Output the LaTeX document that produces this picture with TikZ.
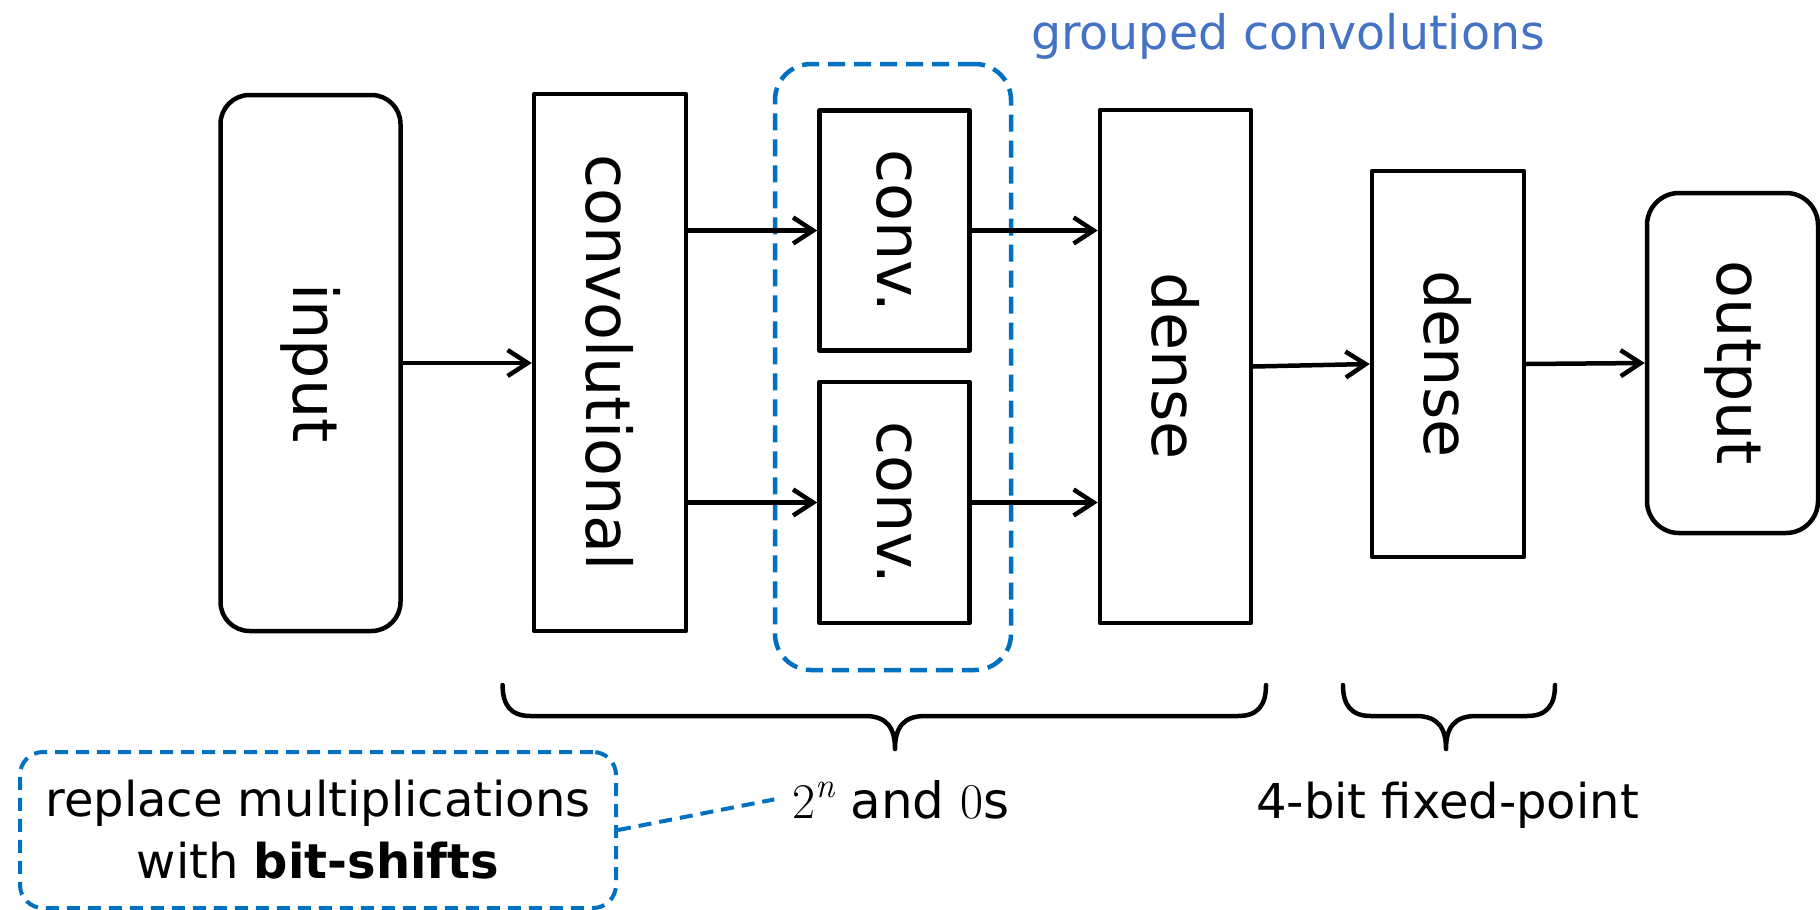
\documentclass[tikz,border=0pt]{standalone}
\usepackage[no-math]{fontspec}
\setmainfont{DejaVu Sans}
\newfontfamily\lmfont{Latin Modern Roman}
\usetikzlibrary{arrows.meta}
\definecolor{groupblue}{HTML}{0070C0}
\definecolor{titleblue}{HTML}{4472C4}
% power of two with an italic exponent
\newcommand{\powtwo}{{\lmfont 2\raisebox{0.42em}{\fontsize{35}{40}\selectfont\itshape n}}}
\begin{document}
\begin{tikzpicture}[x=1pt,y=-1pt,
  layer/.style={draw=black, line width=4.5pt, inner sep=0pt, line join=round,
    font=\fontsize{62}{74}\selectfont},
  terminal/.style={layer, rounded corners=29pt},
  flow/.style={line width=4.5pt, line cap=round, line join=round,
    -{Straight Barb[length=20pt,width=26pt]}},
  groupbox/.style={draw=groupblue, line width=4.5pt, dash pattern=on 17pt off 9pt,
    rounded corners=36pt, inner sep=0pt},
  callout/.style={draw=groupblue, line width=4pt, dash pattern=on 13pt off 8pt,
    rounded corners=23pt, inner sep=0pt, align=center,
    font=\fontsize{48}{62}\selectfont},
  leader/.style={draw=groupblue, line width=4pt, dash pattern=on 13pt off 8pt},
  brace/.style={line width=4.5pt, line cap=round, line join=round},
  caption/.style={font=\fontsize{48}{58}\selectfont, inner sep=0pt},
]
\useasboundingbox (0,0) rectangle (1820,910);

% dashed frame around the grouped convolutions
\node[groupbox, minimum width=236pt, minimum height=606pt] (group) at (893,367) {};
\node[caption, text=titleblue, anchor=base, font=\fontsize{47.5}{56}\selectfont] (title) at (1288,49) {grouped convolutions};

% network layers
\node[terminal, minimum width=180pt, minimum height=536pt] (input) at (310.5,363) {\rotatebox{-90}{input}};
\node[layer, minimum width=152pt, minimum height=537pt] (conv) at (610,362.5) {\rotatebox{-90}{convolutional}};
\node[layer, minimum width=150pt, minimum height=240pt] (c1) at (894.5,230.5) {\rotatebox{-90}{conv.}};
\node[layer, minimum width=150pt, minimum height=241pt] (c2) at (894.5,502.5) {\rotatebox{-90}{conv.}};
\node[layer, minimum width=151pt, minimum height=513pt] (d1) at (1175.5,366.5) {\rotatebox{-90}{dense}};
\node[layer, minimum width=152pt, minimum height=386pt] (d2) at (1448,364) {\rotatebox{-90}{dense}};
\node[terminal, rounded corners=32pt, minimum width=171pt, minimum height=340pt] (out) at (1732.5,363) {\rotatebox{-90}{output}};

% data flow
\draw[flow] (input.east) -- (input.east -| conv.west);
\draw[flow] (conv.east |- c1.west) -- (c1.west);
\draw[flow] (conv.east |- c2.west) -- (c2.west);
\draw[flow] (c1.east) -- (c1.east -| d1.west);
\draw[flow] (c2.east) -- (c2.east -| d1.west);
\draw[flow] (d1.east) -- (d2.west);
\draw[flow] (d2.east) -- (out.west);

% braces under the layer groups
\draw[brace] (502.6,685) .. controls (502.6,705) and (510.6,716) .. (530.6,716)
  -- (865,716) .. controls (887,716) and (895,728) .. (895,749)
  .. controls (895,728) and (903,716) .. (925,716)
  -- (1238,716) .. controls (1258,716) and (1266,705) .. (1266,685);
\draw[brace] (1343,685) .. controls (1343,705) and (1351,716) .. (1371,716)
  -- (1416,716) .. controls (1438,716) and (1446,728) .. (1446,749)
  .. controls (1446,728) and (1454,716) .. (1476,716)
  -- (1527,716) .. controls (1547,716) and (1555,705) .. (1555,685);

% captions
\node[caption, anchor=base, inner xsep=18pt, font=\fontsize{50}{58}\selectfont] (pow) at (901,818) {\powtwo{} and {\lmfont 0}s};
\node[caption, anchor=base] (fixed) at (1447.5,818) {4-bit fixed-point};

% note about the shift-based arithmetic
\node[callout, minimum width=596pt, minimum height=156pt] (note) at (318,830)
  {replace multiplications\\ with \textbf{bit-shifts}};
\draw[leader] (note.east) -- (pow.west);
\end{tikzpicture}
\end{document}
